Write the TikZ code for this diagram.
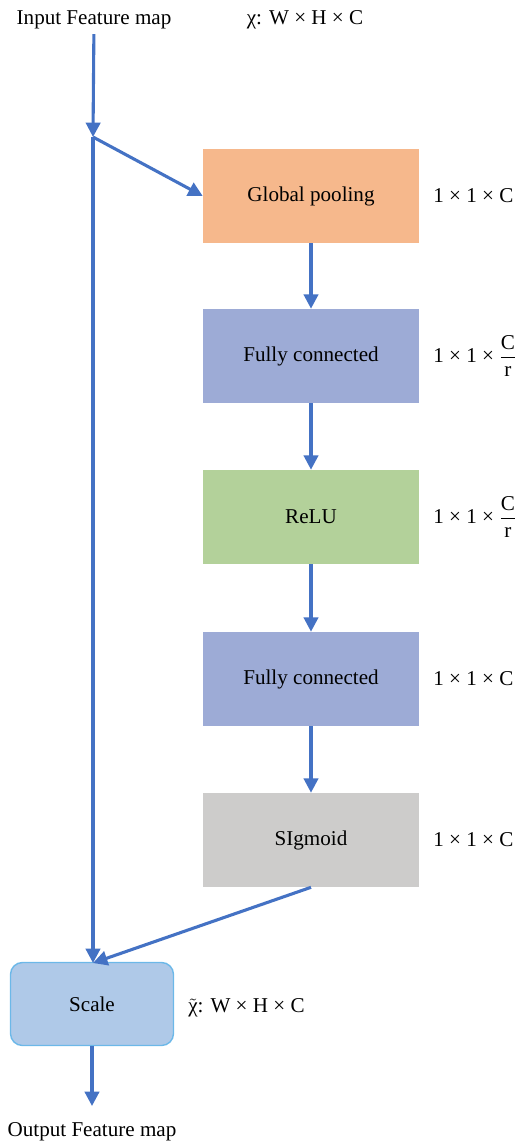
\documentclass[tikz,border=0pt]{standalone}
\usepackage{amsmath}
\usepackage{fontspec}
\setmainfont{Liberation Serif}
\usetikzlibrary{arrows.meta}
\usetikzlibrary{calc}

\definecolor{arrowblue}{HTML}{4472C4}
\definecolor{poolorange}{HTML}{F6B88C}
\definecolor{fcblue}{HTML}{9DABD6}
\definecolor{relugreen}{HTML}{B3D19A}
\definecolor{sigmgray}{HTML}{CDCCCB}
\definecolor{scalefill}{HTML}{AFC9E8}
\definecolor{scaleline}{HTML}{6CB8E8}

\tikzset{
  block/.style={rectangle, minimum width=5.4cm, minimum height=2.35cm, inner sep=0pt},
  flow/.style={arrowblue, line width=2.2pt, -{Triangle[length=0.36cm, width=0.36cm]}},
  dimlabel/.style={anchor=west, inner sep=0pt}
}

\begin{document}
\begin{tikzpicture}[x=0.025cm, y=-0.025cm, font=\fontsize{15}{17}\selectfont]
      \useasboundingbox (0,0) rectangle (523,1143);

      \node (input) at (94,20) {Input Feature map};
      \node (chi) at (305,20) {χ: W × H × C};

      \node[block, fill=poolorange] (gpool) at (311,196) {Global pooling};
      \node[block, fill=fcblue] (fc1) at (311,356) {Fully connected};
      \node[block, fill=relugreen] (relu) at (311,517) {ReLU};
      \node[block, fill=fcblue] (fc2) at (311,679) {Fully connected};
      \node[block, fill=sigmgray] (sigm) at (311,840) {SIgmoid};

      \node[dimlabel] (dpool) at (433,196) {1 × 1 × C};
      \node[dimlabel] (dfc1) at (433,356) {1 × 1 × $\dfrac{\mbox{C}}{\mbox{r}}$};
      \node[dimlabel] (drelu) at (433,517) {1 × 1 × $\dfrac{\mbox{C}}{\mbox{r}}$};
      \node[dimlabel] (dfc2) at (433,679) {1 × 1 × C};
      \node[dimlabel] (dsigm) at (433,840) {1 × 1 × C};

      \node[rectangle, rounded corners=0.3cm, draw=scaleline, line width=1pt, fill=scalefill,
            minimum width=4.075cm, minimum height=2.075cm] (scale) at (92,1004) {Scale};
      \node[dimlabel] (chiout) at (188,1008) {$\tilde{\mbox{χ}}$: W × H × C};
      \node (output) at (92,1132) {Output Feature map};

      \coordinate (split) at (93,137);
      \coordinate (join) at (93,963);
      \coordinate (outend) at (92,1106);

      \draw[flow] (input) -- (split);
      \draw[flow] (split) -- (gpool.west);
      \draw[flow] (split) -- (join);
      \draw[flow] (gpool) -- (fc1);
      \draw[flow] (fc1) -- (relu);
      \draw[flow] (relu) -- (fc2);
      \draw[flow] (fc2) -- (sigm);
      \draw[flow] (sigm.south) -- (join);
      \draw[flow] (scale) -- (outend);
    \end{tikzpicture}
\end{document}
